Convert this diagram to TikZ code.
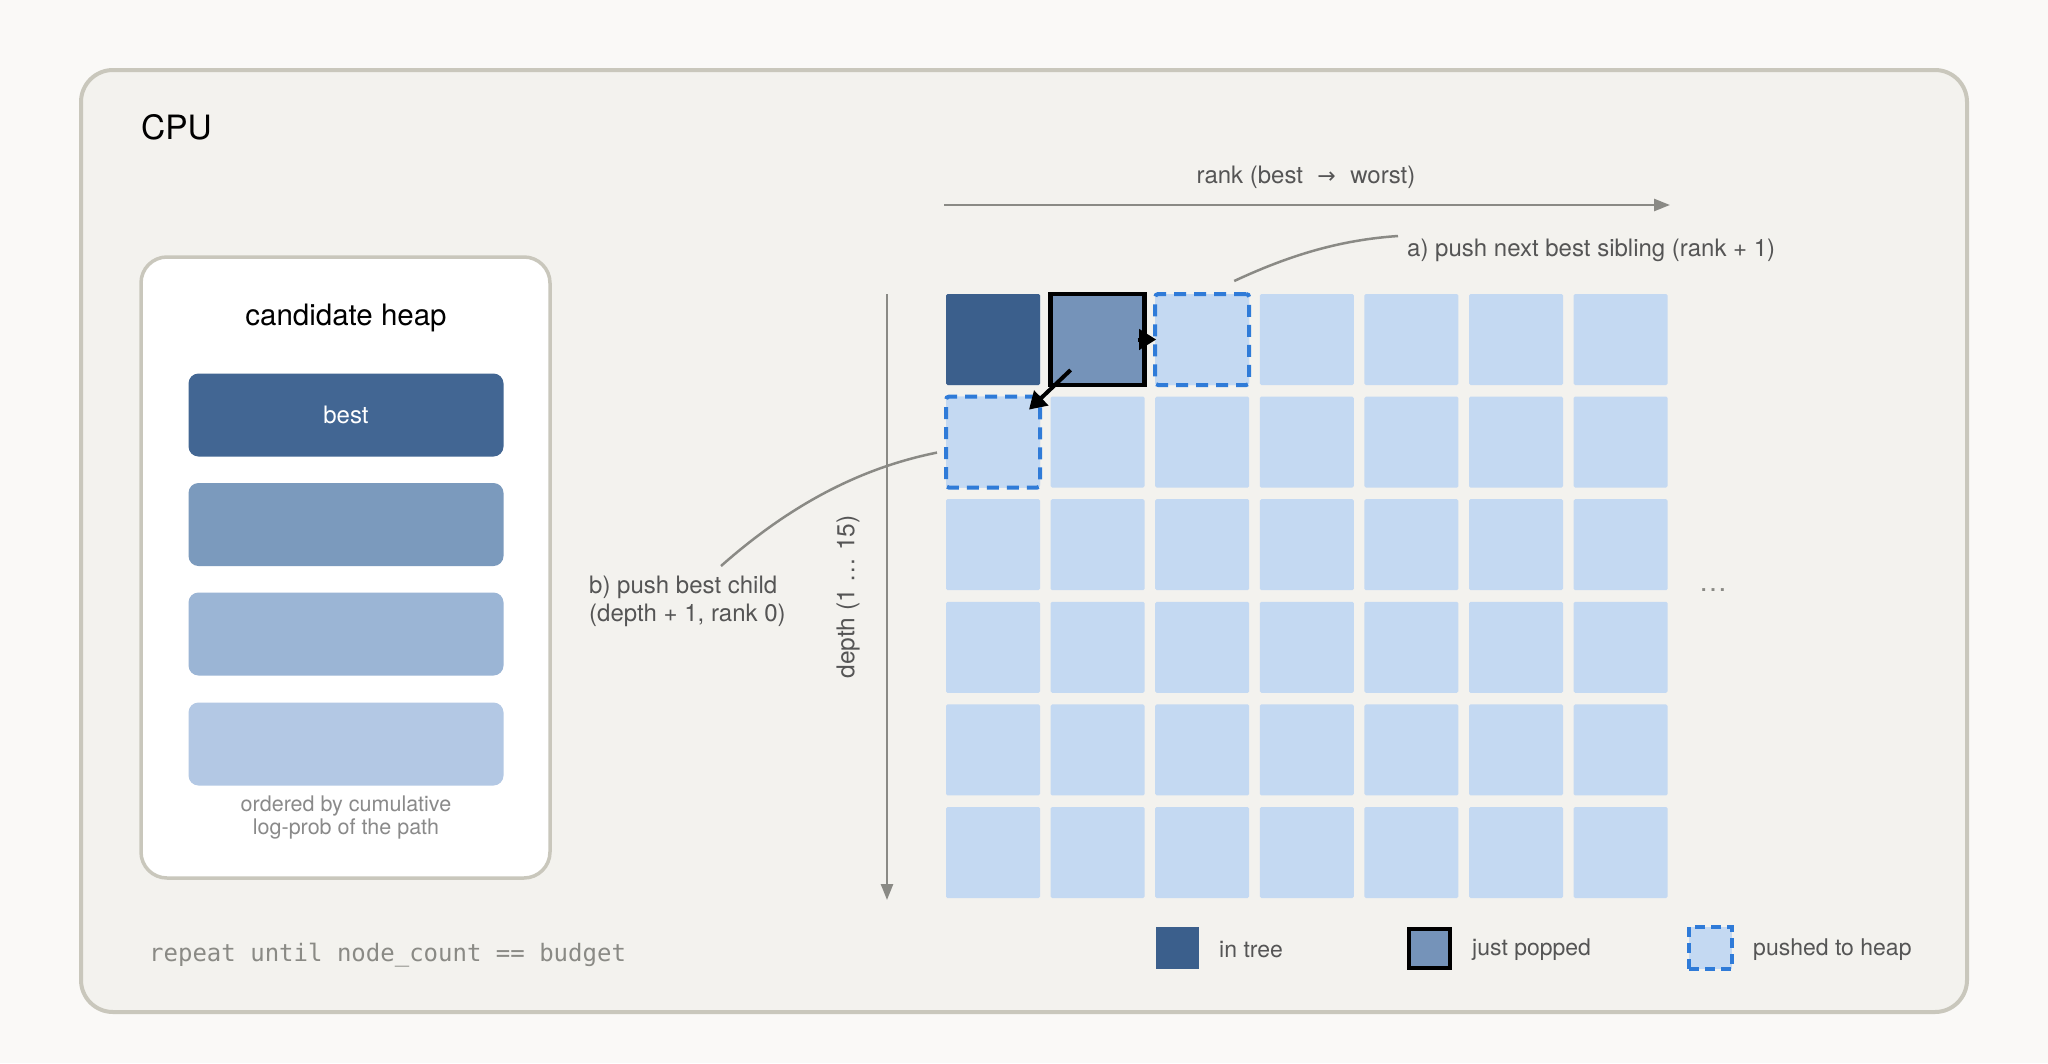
\documentclass[tikz,border=0pt]{standalone}
\usepackage{fontspec}
\setmainfont{TeX Gyre Heros}
\newfontfamily\monof{DejaVu Sans Mono}
\newfontfamily\djv{DejaVu Sans}
\usetikzlibrary{arrows.meta}
\definecolor{pagebg}{HTML}{FAF9F7}
\definecolor{boxfill}{HTML}{F3F2EE}
\definecolor{boxline}{HTML}{C9C7BC}
\definecolor{treeblue}{HTML}{3B5F8C}
\definecolor{popblue}{HTML}{7593B9}
\definecolor{lightcell}{HTML}{C4D9F2}
\definecolor{dashblue}{HTML}{2F7BD8}
\definecolor{heapA}{HTML}{426693}
\definecolor{heapB}{HTML}{7B9ABD}
\definecolor{heapC}{HTML}{9BB5D5}
\definecolor{heapD}{HTML}{B3C8E4}
\definecolor{axisgray}{HTML}{8A8A85}
\definecolor{annot}{HTML}{555555}
\definecolor{notegray}{HTML}{8A8A8A}
\tikzset{
  cellbox/.style={minimum width=94pt, minimum height=91pt, inner sep=0pt, outer sep=0pt, rounded corners=1.5pt},
  lightbox/.style={cellbox, fill=lightcell},
  treebox/.style={cellbox, fill=treeblue},
  popbox/.style={cellbox, fill=popblue, draw=black, line width=4.5pt, rounded corners=0pt},
  pushbox/.style={cellbox, fill=lightcell, draw=dashblue, line width=4pt, dash pattern=on 12pt off 8pt, rounded corners=3pt},
  heapbar/.style={minimum width=315pt, minimum height=83pt, inner sep=0pt, rounded corners=10pt},
  annottext/.style={text=annot, font=\fontsize{24}{28}\selectfont, inner sep=0pt},
  axisline/.style={draw=axisgray, line width=2.5pt},
  calloutline/.style={draw=axisgray, line width=2.5pt},
  blackarrow/.style={draw=black, line width=4pt, -{Triangle[length=17pt,width=20pt]}},
}
\begin{document}
\begin{tikzpicture}[x=1pt,y=-1pt]
\useasboundingbox (0,0) rectangle (2048,1063);
\fill[pagebg] (0,0) rectangle (2048,1063);
% outer CPU box
\draw[draw=boxline, fill=boxfill, line width=4pt, rounded corners=32pt] (81,70) rectangle (1967,1012);
\node[anchor=west, inner sep=0pt, font=\fontsize{33.5}{38}\selectfont] (cpu) at (141,127) {CPU};

% candidate heap
\draw[draw=boxline, fill=white, line width=3.5pt, rounded corners=26pt] (141,257) rectangle (550,878);
\node[font=\fontsize{29.5}{34}\selectfont, inner sep=0pt] (heaptitle) at (346,318) {candidate heap};
\node[heapbar, fill=heapA, text=white, font=\fontsize{24}{28}\selectfont] (h1) at (346,415) {best};
\node[heapbar, fill=heapB] (h2) at (346,524.5) {};
\node[heapbar, fill=heapC] (h3) at (346,634) {};
\node[heapbar, fill=heapD] (h4) at (346,744) {};
\node[align=center, text=notegray, font=\fontsize{21.5}{23}\selectfont, inner sep=0pt] (heapnote) at (346,817) {ordered by cumulative\\log-prob of the path};

\node[anchor=west, inner sep=0pt, text=axisgray, font=\monof\fontsize{24}{28}\selectfont] (repeat) at (149,955) {repeat until node\_count == budget};

% grid
\foreach \i in {0,...,6}{
  \foreach \j in {0,...,5}{
    \node[lightbox] (c\i\j) at ({993+104.6*\i},{339.5+102.6*\j}) {};
  }
}
\node[treebox] (tree) at (c00) {};
\node[popbox] (pop) at (c10) {};
\node[pushbox] (sib) at (c20) {};
\node[pushbox] (child) at (c01) {};

% axes
\coordinate (rankS) at (944,205);
\coordinate (rankE) at (1670,205);
\draw[axisline, -{Triangle[length=16pt,width=12pt]}] (rankS) -- (rankE);
\node[annottext] (ranklabel) at (1306,177) {rank (best\hspace{0.6em}{\djv\fontsize{22}{24}\selectfont →}\hspace{0.6em}worst)};
\coordinate (depthS) at (887,294);
\coordinate (depthE) at (887,900);
\draw[axisline, -{Triangle[length=16pt,width=12pt]}] (depthS) -- (depthE);
\node[annottext, rotate=90, font=\fontsize{24.5}{28}\selectfont] (depthlabel) at (848,597) {depth (1 … 15)};
\node[text=axisgray, inner sep=0pt, font=\fontsize{28}{32}\selectfont] (dots) at (1713,590) {…};

% push arrows
\draw[blackarrow] ([xshift=-7pt]pop.east) -- ([xshift=1pt]sib.west);
\draw[blackarrow] ([shift={(20,-15)}]pop.south west) -- ([shift={(-11,13)}]child.north east);

% callouts
\node[annottext, anchor=west] (alabel) at (1407,250) {a) push next best sibling (rank + 1)};
\draw[calloutline] ([shift={(-15,-13)}]sib.north east) .. controls (1290,255) and (1340,240) .. ([shift={(-9,-14)}]alabel.west);
\node[annottext, anchor=west, align=left] (blabel) at (589,601) {b) push best child\\(depth + 1, rank 0)};
\draw[calloutline] ([shift={(132,-35)}]blabel.west) .. controls (790,505) and (860,468) .. ([shift={(-9,56)}]child.north west);

% legend
\node[minimum width=43pt, minimum height=42pt, inner sep=0pt, fill=treeblue] (legtree) at (1177.5,948) {};
\node[annottext, anchor=west, font=\fontsize{23}{27}\selectfont] (legtreetext) at (1219,949.5) {in tree};
\node[minimum width=41pt, minimum height=39pt, inner sep=0pt, fill=popblue, draw=black, line width=4pt] (legpop) at (1429.5,948.5) {};
\node[annottext, anchor=west, font=\fontsize{23}{27}\selectfont] (legpoptext) at (1472,949.5) {just popped};
\node[minimum width=43pt, minimum height=42pt, inner sep=0pt, fill=lightcell, draw=dashblue, line width=3.5pt, dash pattern=on 10pt off 6pt] (legpush) at (1710.5,948) {};
\node[annottext, anchor=west, font=\fontsize{23}{27}\selectfont] (legpushtext) at (1753,949.5) {pushed to heap};
\end{tikzpicture}
\end{document}
